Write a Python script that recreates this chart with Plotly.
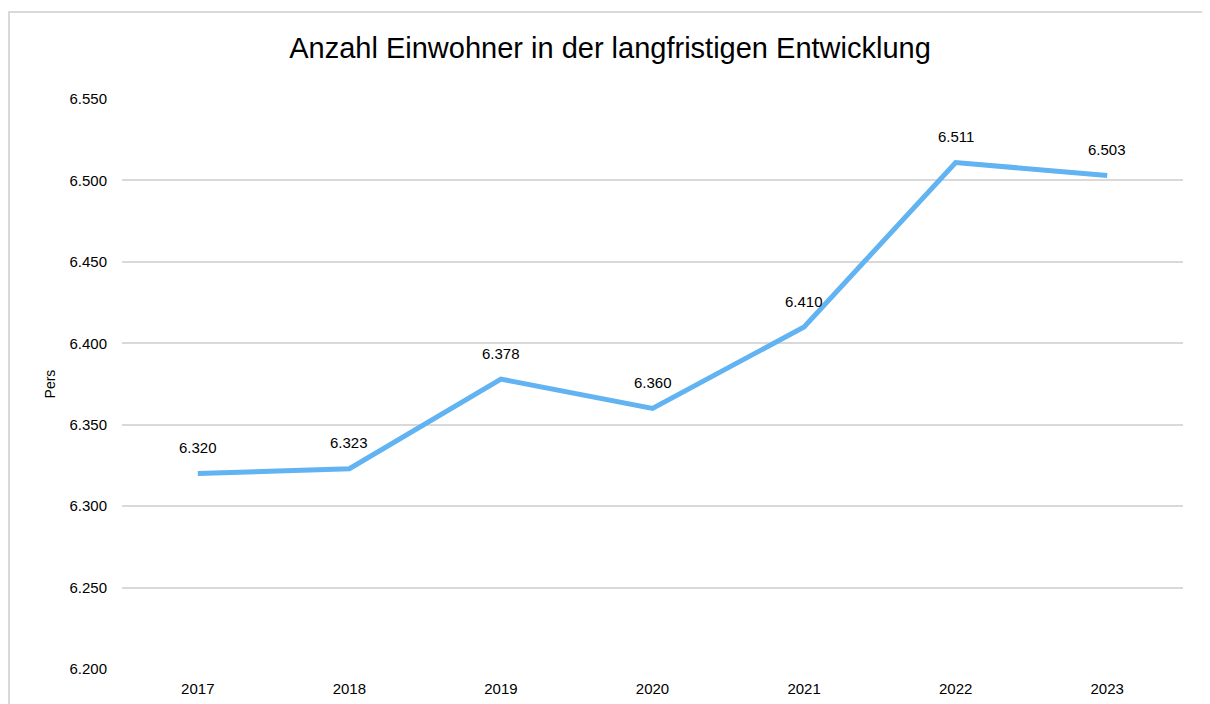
import plotly.graph_objects as go

years = ["2017", "2018", "2019", "2020", "2021", "2022", "2023"]
einwohner = [6320, 6323, 6378, 6360, 6410, 6511, 6503]
y_ticks = [6200, 6250, 6300, 6350, 6400, 6450, 6500, 6550]

FONT = "Liberation Sans, Arial, sans-serif"
idx = list(range(len(years)))

fig = go.Figure()
fig.add_trace(go.Scatter(
    x=idx, y=einwohner, mode="lines",
    line=dict(color="#62B3F2", width=5),
    customdata=years, hovertemplate="%{customdata}: %{y}<extra></extra>",
    showlegend=False,
))

for i, y in zip(idx, einwohner):
    fig.add_annotation(
        x=i, y=y, xref="x", yref="y",
        text=f"{y:,}".replace(",", "."), showarrow=False,
        yshift=26, font=dict(family=FONT, size=15, color="#000000"),
    )

# page body has an 8px margin
W, H = 1202, 696
L, R, T, B = 114, 27, 91, 35
pw, ph = W - L - R, H - T - B

fig.add_shape(
    type="rect", xref="paper", yref="paper",
    x0=(1 - L) / pw, x1=(W + 20 - L) / pw,
    y0=-(B + 20) / ph, y1=1 + (T - 4) / ph,
    line=dict(color="#D9D9D9", width=2), fillcolor="rgba(0,0,0,0)",
    layer="below",
)

fig.update_layout(
    width=W, height=H,
    margin=dict(l=L, r=R, t=T, b=B),
    paper_bgcolor="white", plot_bgcolor="white",
    separators=",.",
    title=dict(
        text="Anzahl Einwohner in der langfristigen Entwicklung",
        x=602 / W, xref="container", xanchor="center",
        y=1 - 40 / H, yref="container", yanchor="middle",
        font=dict(family=FONT, size=29, color="#000000"),
    ),
    xaxis=dict(
        range=[-0.5, 6.5], tickvals=idx, ticktext=years,
        showgrid=False, showline=False, zeroline=False, ticks="",
        tickfont=dict(family=FONT, size=15, color="#000000"),
        ticklabelstandoff=9, automargin=False,
    ),
    yaxis=dict(
        range=[6200, 6550], tickvals=y_ticks, tickformat=",d",
        showgrid=True, gridcolor="#D9D9D9", gridwidth=1.5,
        zeroline=False, showline=False, ticks="",
        tickfont=dict(family=FONT, size=15, color="#000000"),
        ticklabelstandoff=14, automargin=False,
        title=dict(text="Pers", standoff=10,
                   font=dict(family=FONT, size=14, color="#000000")),
    ),
)

fig.write_html("out.html")
